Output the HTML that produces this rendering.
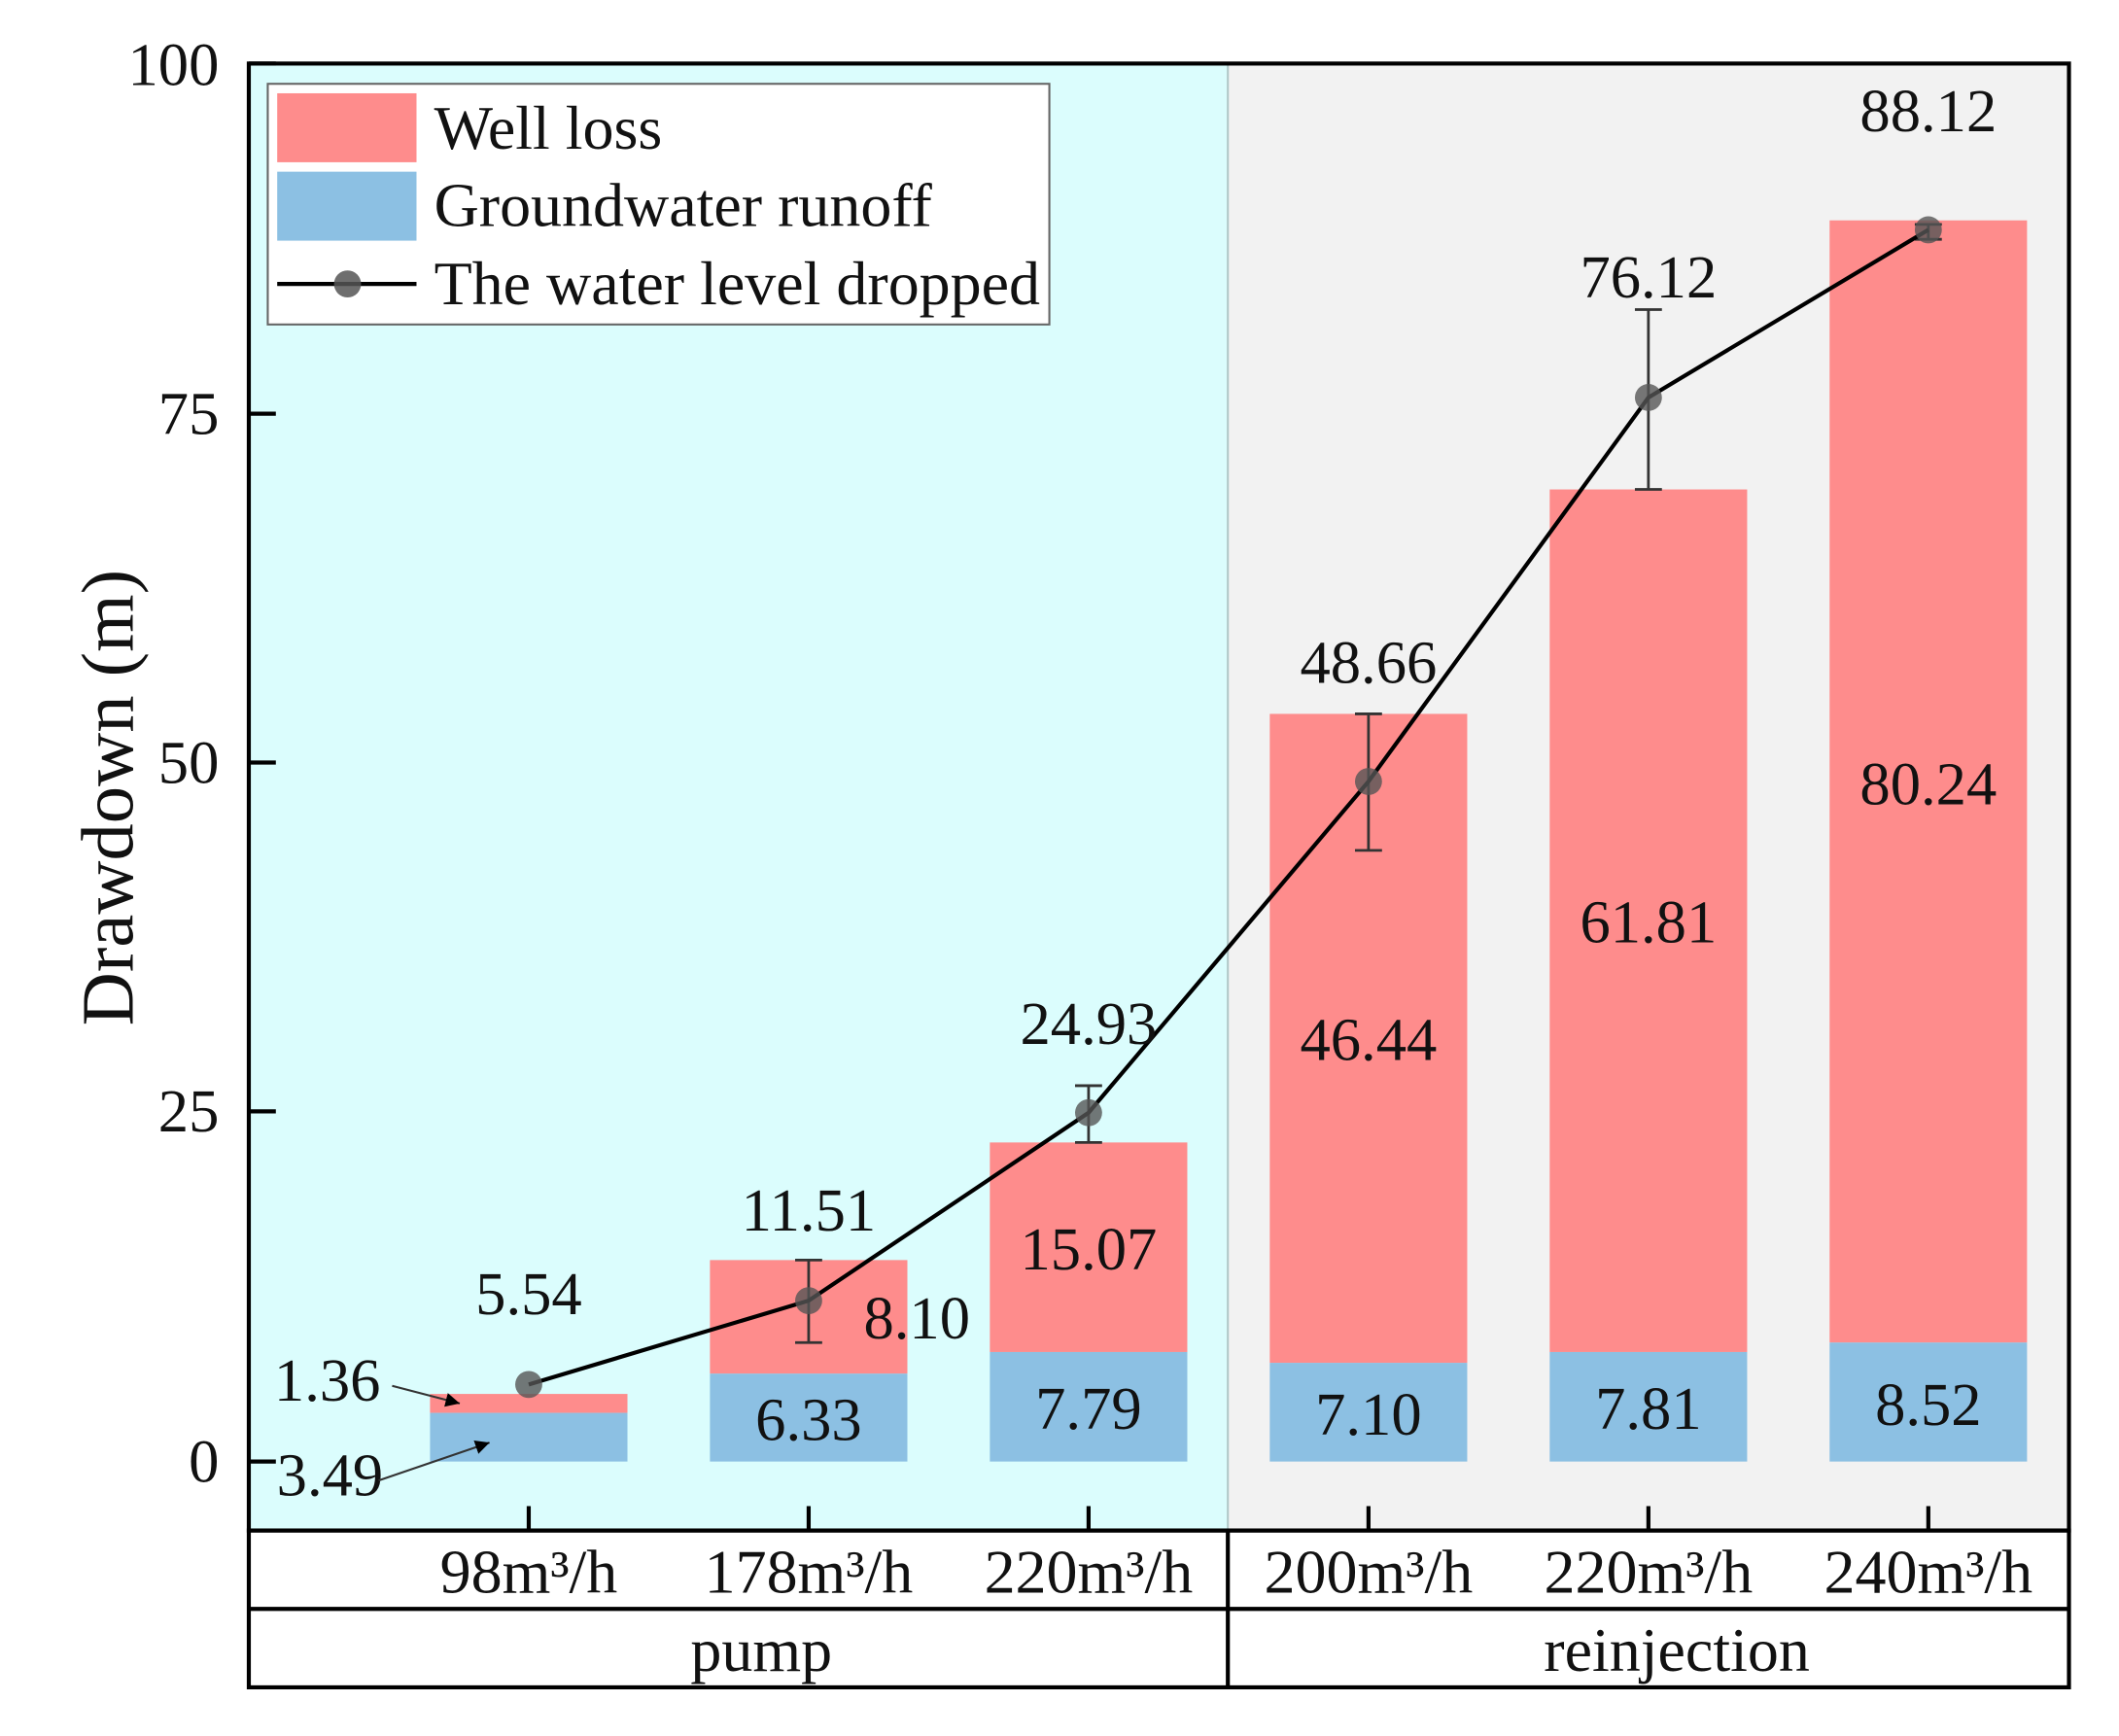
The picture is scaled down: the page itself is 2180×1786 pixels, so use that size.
<!DOCTYPE html>
<html><head><meta charset="utf-8"><style>html,body{margin:0;padding:0;background:#fff}svg{display:block}</style></head><body>
<svg width="2180" height="1786" viewBox="0 0 1567 1284" preserveAspectRatio="none" xmlns="http://www.w3.org/2000/svg" font-family="Liberation Serif, serif">
<defs><marker id="ah" viewBox="0 0 10 10" refX="10" refY="5" markerWidth="7" markerHeight="7" orient="auto-start-reverse"><path d="M0,0 L10,5 L0,10 z" fill="#000"/></marker></defs>
<rect x="184" y="47" width="724" height="1085" fill="#dbfdfd"/>
<rect x="908" y="47" width="622" height="1085" fill="#f2f2f2"/>
<line x1="908" y1="47" x2="908" y2="1132" stroke="#b0c8c8" stroke-width="1.5"/>
<g>
<rect x="318" y="1031" width="146" height="14" fill="#fe8c8c"/><rect x="318" y="1045" width="146" height="36" fill="#8cc0e3"/>
<rect x="525" y="932" width="146" height="84" fill="#fe8c8c"/><rect x="525" y="1016" width="146" height="65" fill="#8cc0e3"/>
<rect x="732" y="845" width="146" height="155" fill="#fe8c8c"/><rect x="732" y="1000" width="146" height="81" fill="#8cc0e3"/>
<rect x="939" y="528" width="146" height="480" fill="#fe8c8c"/><rect x="939" y="1008" width="146" height="73" fill="#8cc0e3"/>
<rect x="1146" y="362" width="146" height="638" fill="#fe8c8c"/><rect x="1146" y="1000" width="146" height="81" fill="#8cc0e3"/>
<rect x="1353" y="163" width="146" height="830" fill="#fe8c8c"/><rect x="1353" y="993" width="146" height="88" fill="#8cc0e3"/>
</g>
<g stroke="#333" stroke-width="2" fill="none">
<path d="M598,932V993M588,932H608M588,993H608"/>
<path d="M805,803V845M795,803H815M795,845H815"/>
<path d="M1012,528V629M1002,528H1022M1002,629H1022"/>
<path d="M1219,229V362M1209,229H1229M1209,362H1229"/>
<path d="M1426,166V177M1416,166H1436M1416,177H1436"/>
</g>
<polyline points="391,1024 598,962 805,823 1012,578 1219,294 1426,170" fill="none" stroke="#000" stroke-width="3"/>
<g fill="#555" fill-opacity="0.8">
<circle cx="391" cy="1024" r="10"/><circle cx="598" cy="962" r="10"/><circle cx="805" cy="823" r="10"/><circle cx="1012" cy="578" r="10"/><circle cx="1219" cy="294" r="10"/><circle cx="1426" cy="170" r="10"/>
</g>
<g font-size="45" text-anchor="middle" fill="#111">
<text x="391" y="972">5.54</text><text x="598" y="910">11.51</text><text x="805" y="772">24.93</text>
<text x="1012" y="505">48.66</text><text x="1219" y="220">76.12</text><text x="1426" y="97">88.12</text>
<text x="678" y="990">8.10</text><text x="805" y="939">15.07</text><text x="1012" y="784">46.44</text>
<text x="1219" y="697">61.81</text><text x="1426" y="595">80.24</text>
<text x="598" y="1065">6.33</text><text x="805" y="1057">7.79</text><text x="1012" y="1061">7.10</text>
<text x="1219" y="1057">7.81</text><text x="1426" y="1054">8.52</text>
<text x="242" y="1036">1.36</text><text x="244" y="1106">3.49</text>
</g>
<line x1="290" y1="1025" x2="340" y2="1038" stroke="#333" stroke-width="1.5" marker-end="url(#ah)"/>
<line x1="280" y1="1095" x2="362" y2="1067" stroke="#333" stroke-width="1.5" marker-end="url(#ah)"/>
<rect x="184" y="47" width="1346" height="1085" fill="none" stroke="#000" stroke-width="3"/>
<g stroke="#000" stroke-width="3">
<path d="M184,47H204M184,306H204M184,564H204M184,822H204M184,1081H204"/>
<path d="M391,1132V1114M598,1132V1114M805,1132V1114M1012,1132V1114M1219,1132V1114M1426,1132V1114"/>
</g>
<g font-size="45" text-anchor="end" fill="#111">
<text x="162" y="63">100</text><text x="162" y="321">75</text><text x="162" y="579">50</text><text x="162" y="837">25</text><text x="162" y="1096">0</text>
</g>
<text transform="translate(98,590) rotate(-90)" font-size="55" text-anchor="middle" fill="#111">Drawdown (m)</text>
<rect x="198" y="62" width="578" height="178" fill="#fff" stroke="#666" stroke-width="1.5"/>
<rect x="205" y="69" width="103" height="51" fill="#fe8c8c"/>
<rect x="205" y="127" width="103" height="51" fill="#8cc0e3"/>
<line x1="205" y1="210" x2="308" y2="210" stroke="#000" stroke-width="3"/>
<circle cx="257" cy="210" r="10" fill="#555" fill-opacity="0.85"/>
<g font-size="46" fill="#111">
<text x="321" y="110">Well loss</text><text x="321" y="167">Groundwater runoff</text><text x="321" y="225">The water level dropped</text>
</g>
<g fill="none" stroke="#000" stroke-width="3">
<rect x="184" y="1132" width="1346" height="116"/>
<line x1="184" y1="1190" x2="1530" y2="1190"/>
<line x1="908" y1="1132" x2="908" y2="1248"/>
</g>
<g font-size="46" text-anchor="middle" fill="#111">
<text x="391" y="1178">98m³/h</text><text x="598" y="1178">178m³/h</text><text x="805" y="1178">220m³/h</text>
<text x="1012" y="1178">200m³/h</text><text x="1219" y="1178">220m³/h</text><text x="1426" y="1178">240m³/h</text>
<text x="563" y="1236">pump</text><text x="1240" y="1236">reinjection</text>
</g>
</svg>
</body></html>
